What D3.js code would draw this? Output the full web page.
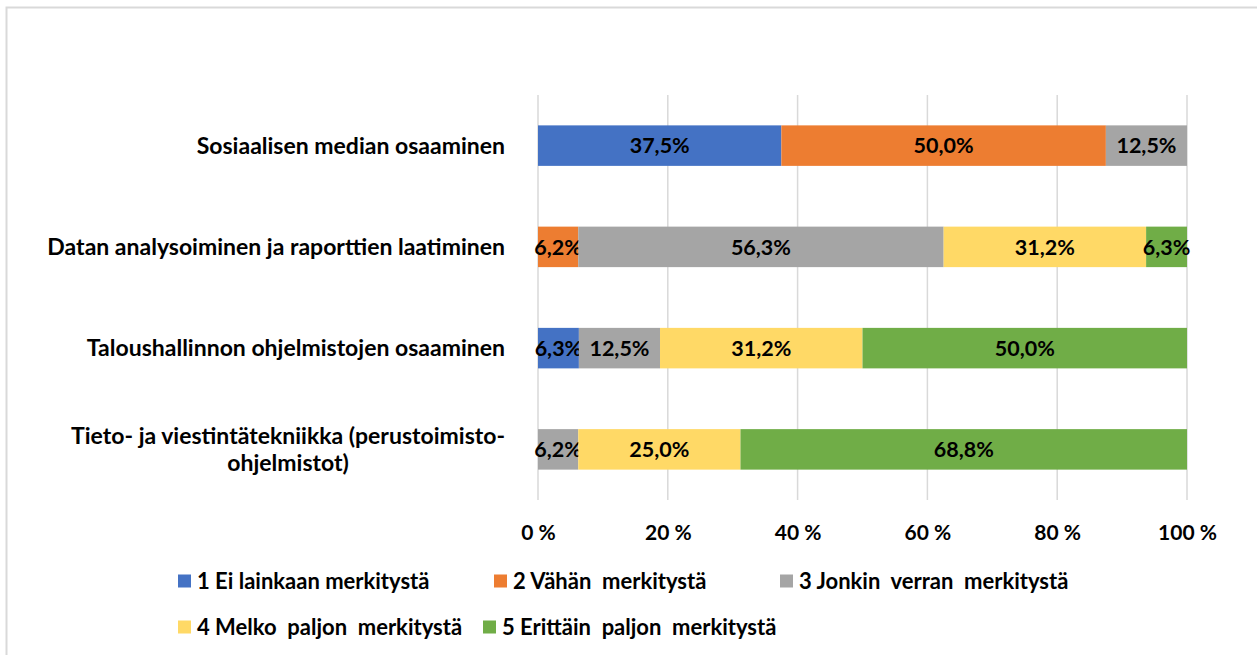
<!DOCTYPE html>
<html>
<head>
<meta charset="utf-8">
<script src="https://cdn.jsdelivr.net/npm/d3@7"></script>
<style>
  body { margin: 0; background: #fff; }
  svg text { font-family: Lato, "Open Sans", sans-serif; font-weight: bold; fill: #000; white-space: pre; }
</style>
</head>
<body>
<div id="chart"></div>
<script>
const width = 1257;
const height = 655;

const categories = [
  "Sosiaalisen median osaaminen",
  "Datan analysoiminen ja raporttien laatiminen",
  "Taloushallinnon ohjelmistojen osaaminen",
  "Tieto- ja viestintätekniikka (perustoimisto-|ohjelmistot)",
];
const seriesNames = [
  "1 Ei lainkaan merkitystä",
  "2 Vähän  merkitystä",
  "3 Jonkin  verran  merkitystä",
  "4 Melko  paljon  merkitystä",
  "5 Erittäin  paljon  merkitystä",
];
const colors = ["#4472C4", "#ED7D31", "#A5A5A5", "#FFD966", "#70AD47"];
const s1 = [37.5, 0, 6.3, 0];
const s2 = [50.0, 6.2, 0, 0];
const s3 = [12.5, 56.3, 12.5, 6.2];
const s4 = [0, 31.2, 31.2, 25.0];
const s5 = [0, 6.3, 50.0, 68.8];
const tickValues = [0, 20, 40, 60, 80, 100];

const series = [s1, s2, s3, s4, s5];

const svg = d3
  .select("#chart")
  .append("svg")
  .attr("width", width)
  .attr("height", height);

// frame (only top and left edges visible)
svg.append("rect")
  .attr("x", 6.5).attr("y", 7.5)
  .attr("width", width + 20).attr("height", height + 20)
  .attr("fill", "none").attr("stroke", "#D9D9D9").attr("stroke-width", 2);

const xScale = d3.scaleLinear().domain([0, 100]).range([538, 1187]);
const yScale = d3.scaleBand().domain(categories).range([95, 500])
  .paddingInner(0.6).paddingOuter(0.3);

// gridlines
svg.append("g")
  .selectAll("line")
  .data(tickValues)
  .enter()
  .append("line")
  .attr("x1", (d) => xScale(d)).attr("x2", (d) => xScale(d))
  .attr("y1", 95).attr("y2", 500)
  .attr("stroke", "#D9D9D9").attr("stroke-width", 1.5);

// stacked bars
const rows = categories.map((c, i) => {
  const obj = { cat: c };
  series.forEach((s, k) => (obj["s" + k] = s[i]));
  return obj;
});
const stack = d3.stack().keys(series.map((s, k) => "s" + k))(rows);

const fmt = (v) => v.toFixed(1).replace(".", ",") + "%";

stack.forEach((layer, k) => {
  const g = svg.append("g");
  g.selectAll("rect")
    .data(layer.filter((d) => d[1] - d[0] > 0))
    .enter()
    .append("rect")
    .attr("x", (d) => xScale(d[0]))
    .attr("y", (d) => yScale(d.data.cat))
    .attr("width", (d) => xScale(d[1]) - xScale(d[0]))
    .attr("height", yScale.bandwidth())
    .attr("fill", colors[k]);
  g.selectAll("text")
    .data(layer.filter((d) => d[1] - d[0] > 0))
    .enter()
    .append("text")
    .attr("x", (d) => (xScale(d[0]) + xScale(d[1])) / 2)
    .attr("y", (d) => yScale(d.data.cat) + yScale.bandwidth() / 2)
    .attr("dy", "0.36em")
    .attr("text-anchor", "middle")
    .style("font-size", "21.5px")
    .text((d) => fmt(d[1] - d[0]));
});

// category labels (right aligned block, lines centered inside it)
categories.forEach((c) => {
  const lines = c.split("|");
  const cy = yScale(c) + yScale.bandwidth() / 2;
  const t = svg.append("text").style("font-size", "23px").attr("text-anchor", "middle");
  const spans = lines.map((l) => t.append("tspan").text(l));
  const maxW = d3.max(spans, (s) => s.node().getComputedTextLength());
  const cx = 505 - maxW / 2;
  spans.forEach((s, i) => {
    s.attr("x", cx).attr("y", cy + (i - (lines.length - 1) / 2) * 27).attr("dy", "0.36em");
  });
});

// x axis labels
svg.append("g")
  .attr("transform", "translate(0,532)")
  .call(d3.axisBottom(xScale).tickValues(tickValues).tickSize(0).tickFormat((d) => d + " %"))
  .call((g) => g.select(".domain").remove())
  .selectAll("text")
  .style("font-size", "21px")
  .attr("y", 0)
  .attr("dy", "0.36em");

// legend
const legendPos = [[178, 581], [494, 581], [780, 581], [178, 627], [483, 627]];
const legend = svg.append("g")
  .selectAll("g")
  .data(seriesNames)
  .enter()
  .append("g")
  .attr("transform", (d, i) => `translate(${legendPos[i][0]},${legendPos[i][1]})`);
legend.append("rect")
  .attr("x", 0).attr("y", -6.5)
  .attr("width", 13).attr("height", 13)
  .attr("fill", (d, i) => colors[i]);
legend.append("text")
  .attr("x", 19).attr("dy", "0.36em")
  .style("font-size", "22px")
  .text((d) => d);
</script>
</body>
</html>
